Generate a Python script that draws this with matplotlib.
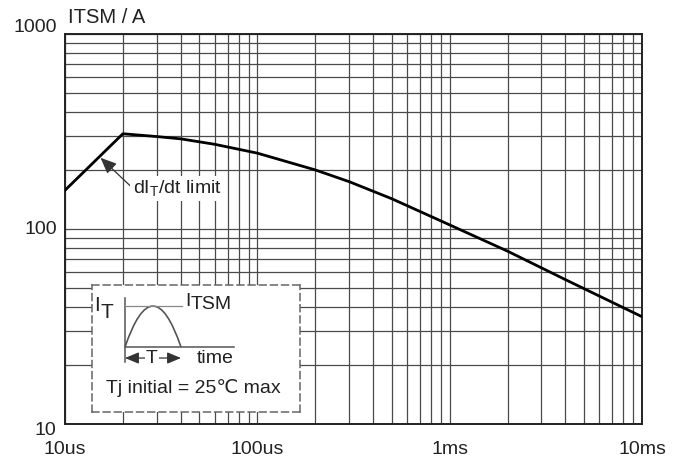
import numpy as np
import matplotlib
matplotlib.use("Agg")
import matplotlib.pyplot as plt
from matplotlib.ticker import LogLocator, NullFormatter
from matplotlib.transforms import ScaledTranslation
from matplotlib.path import Path
from matplotlib.patches import PathPatch

plt.rcParams['font.family'] = ['Liberation Sans', 'DejaVu Sans']
plt.rcParams['font.size'] = 14

# surge current vs pulse width (time in microseconds)
t_us = [10, 20, 30, 40, 60, 100, 200, 300, 500, 1000, 2000, 4000, 10000]
itsm = [158, 308, 298, 290, 272, 245, 201, 175, 143, 105, 77, 55, 35.5]

x_ticks = [10, 100, 1000, 10000]
x_labels = ['10us', '100us', '1ms', '10ms']
y_ticks = [10, 100, 1000]
y_labels = ['10', '100', '1000']
y_label_shift = [-4, 2, 9]   # pixels

grid_col = '#4a4a4a'
ink = '#555555'

fig = plt.figure(figsize=(6.87, 4.58), dpi=100)
ax = fig.add_axes([0.0946, 0.0742, 0.8399, 0.8515])
ax.set_xscale('log')
ax.set_yscale('log')
ax.set_xlim(10, 10000)
ax.set_ylim(10, 1000)

ax.set_xticks(x_ticks, labels=x_labels)
ax.set_yticks(y_ticks, labels=y_labels)
for axis in (ax.xaxis, ax.yaxis):
    axis.set_minor_locator(LogLocator(subs=range(2, 10)))
    axis.set_minor_formatter(NullFormatter())
ax.grid(which='both', color=grid_col, lw=0.9)
ax.tick_params(which='both', length=0)
ax.tick_params(axis='x', pad=12, labelsize=14, colors='#222222')
ax.tick_params(axis='y', pad=6, labelsize=14, colors='#222222')
for sp in ax.spines.values():
    sp.set_linewidth(1.4)
    sp.set_color('#222222')

for lbl, dy in zip(ax.get_yticklabels(), y_label_shift):
    lbl.set_transform(lbl.get_transform() + ScaledTranslation(0, dy / 100, fig.dpi_scale_trans))

ax.text(0.006, 1.042, 'ITSM / A', transform=ax.transAxes, ha='left', va='center',
        fontsize=14.5, color='#222222')

ax.plot(t_us, itsm, color='black', lw=2.0, zorder=3)

ax.annotate('d$\\mathregular{I_T}$/dt limit', xy=(15.3, 232), xytext=(22.5, 162),
            ha='left', va='center', fontsize=14, color='#222222', zorder=4,
            bbox=dict(boxstyle='square,pad=0.12', fc='white', ec='none'),
            arrowprops=dict(arrowstyle='-|>,head_length=0.7,head_width=0.3',
                            color='#333333', lw=0.9, shrinkA=0, shrinkB=0,
                            relpos=(0, 0.5)))

# waveform sketch box (coordinates in pixels of the box)
ax_in = ax.inset_axes([0.0468, 0.0308, 0.3605, 0.3256])
ax_in.set_xlim(0, 208)
ax_in.set_ylim(127, 0)
ax_in.set_facecolor('white')
ax_in.set_xticks([])
ax_in.set_yticks([])
for sp in ax_in.spines.values():
    sp.set_linestyle((0, (4.5, 2.8)))
    sp.set_color('#666666')
    sp.set_linewidth(1.1)

pulse_start, pulse_end, base_y, peak_y = 33, 89, 62, 21
ctrl_y = 2 * peak_y - base_y  # quadratic bezier control point
ax_in.plot([pulse_start, pulse_start], [13, 77], color=ink, lw=1.1)
ax_in.plot([pulse_start, 142], [base_y, base_y], color=ink, lw=1.1)
ax_in.plot([pulse_start, 90], [peak_y, peak_y], color='#888888', lw=0.9)
arch = Path([(pulse_start, base_y), ((pulse_start + pulse_end) / 2, ctrl_y), (pulse_end, base_y)],
            [Path.MOVETO, Path.CURVE3, Path.CURVE3])
ax_in.add_patch(PathPatch(arch, fc='none', ec=ink, lw=1.2))

ax_in.annotate('', xy=(pulse_start, 73), xytext=(pulse_end, 73),
               arrowprops=dict(arrowstyle='<|-|>,head_length=0.6,head_width=0.25',
                               color='#333333', lw=0.9, shrinkA=0, shrinkB=0))
ax_in.text(60, 73, 'T', ha='center', va='center', fontsize=14, color='#222222',
           bbox=dict(boxstyle='square,pad=0.05', fc='white', ec='none'))
ax_in.text(105, 73, 'time', ha='left', va='center', fontsize=14, color='#222222')

ax_in.text(2, 20, 'I', ha='left', va='center', fontsize=15, color='#222222')
ax_in.text(9, 27, 'T', ha='left', va='center', fontsize=15, color='#222222')
ax_in.text(93, 16.5, 'I', ha='left', va='center', fontsize=14, color='#222222')
ax_in.text(99, 19.5, 'TSM', ha='left', va='center', fontsize=14, color='#222222')

ax_in.text(101, 103, 'Tj initial = 25℃ max', ha='center', va='center',
           fontsize=14, color='#222222')

fig.savefig('out.png', dpi=100)
